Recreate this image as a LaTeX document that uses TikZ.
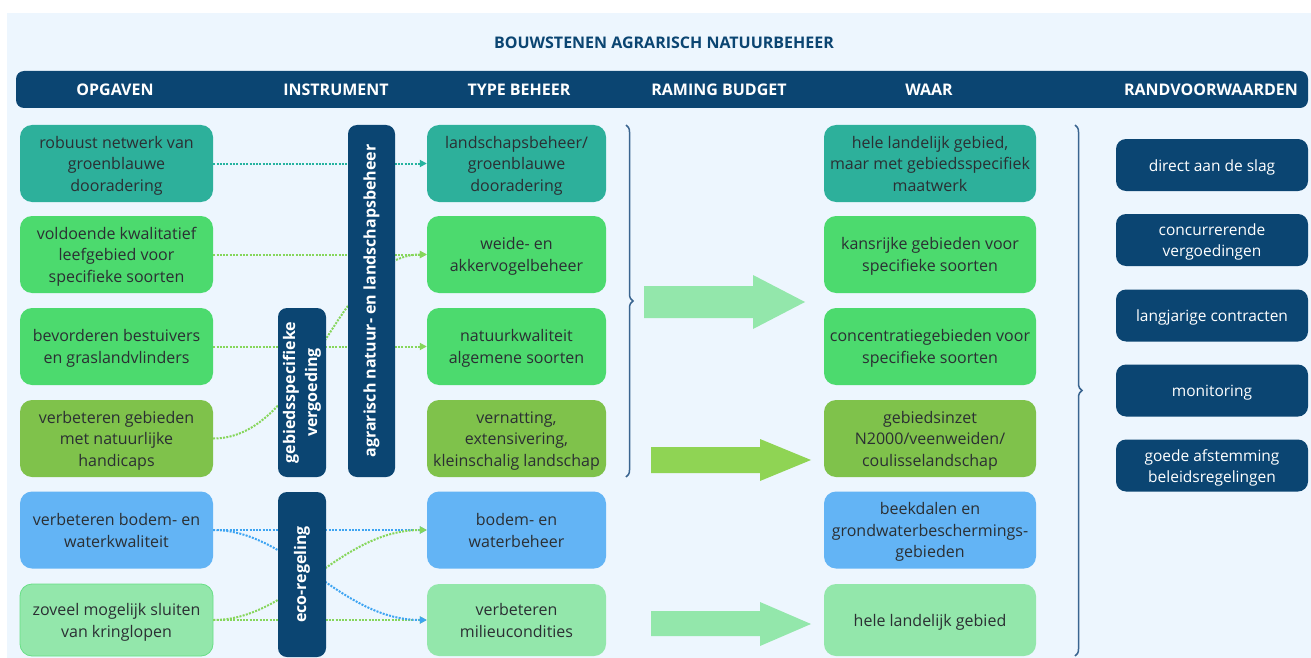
\documentclass[tikz,border=0pt]{standalone}
\usepackage{fontspec}
\setmainfont{Open Sans}
\usetikzlibrary{arrows.meta,decorations.pathreplacing}
\definecolor{bg}{HTML}{EDF6FE}
\definecolor{navy}{HTML}{0B4572}
\definecolor{cteal}{HTML}{2DB09B}
\definecolor{cgreen}{HTML}{4CDA6E}
\definecolor{colive}{HTML}{7FC24B}
\definecolor{cblue}{HTML}{63B4F5}
\definecolor{clight}{HTML}{93E7AB}
\definecolor{carrow}{HTML}{8FD454}
\definecolor{lteal}{HTML}{26B39F}
\definecolor{lgreen}{HTML}{86D65B}
\definecolor{lblue}{HTML}{3DA4F2}
\definecolor{txt}{HTML}{2B2F33}
\definecolor{brc}{HTML}{3A6590}
\newcommand\sA{\rule{0pt}{1.069em}}
\newcommand\sB{\rule[-0.293em]{0pt}{0.293em}}
\begin{document}
\begin{tikzpicture}[x=1pt,y=-1pt,
  box/.style={rectangle, rounded corners=12pt, align=center, text=txt,
    font=\fontsize{16}{21.6}\selectfont, inner sep=0pt},
  obox/.style={box, minimum width=193pt, minimum height=77pt},
  tbox/.style={box, minimum width=179pt, minimum height=77pt},
  wbox/.style={box, minimum width=212pt, minimum height=77pt},
  rbox/.style={rectangle, rounded corners=10pt, fill=navy, text=white, align=center,
    font=\fontsize{15.5}{21}\selectfont, minimum width=192pt, minimum height=52pt, inner sep=0pt},
  bar/.style={rectangle, rounded corners=9pt, fill=navy, text=white, align=center,
    font=\bfseries\fontsize{16}{22}\selectfont, rotate=90, inner sep=0pt},
  hdr/.style={text=white, font=\bfseries\fontsize{16}{19}\selectfont, inner sep=0pt},
  conn/.style={line width=2pt, dash pattern=on 2pt off 1.3pt, -{Triangle[length=7pt,width=7pt]}},
  brace/.style={draw=brc, line width=1.5pt, decorate, decoration={brace, amplitude=7pt}}
]
\useasboundingbox (0,0) rectangle (1311,658);
\fill[white] (0,0) rectangle (1311,658);
\fill[bg] (7,13) rectangle (1311,658);

% title and header
\node[text=navy, font=\bfseries\fontsize{16}{19}\selectfont] (title) at (664,43) {BOUWSTENEN AGRARISCH NATUURBEHEER};
\fill[navy, rounded corners=8pt] (16,71) rectangle (1308,108);
\node[hdr] (h1) at (115,89.5) {\sA OPGAVEN\sB};
\node[hdr] (h2) at (336,89.5) {\sA INSTRUMENT\sB};
\node[hdr] (h3) at (519,89.5) {\sA TYPE BEHEER\sB};
\node[hdr] (h4) at (719,89.5) {\sA RAMING BUDGET\sB};
\node[hdr] (h5) at (929,89.5) {\sA WAAR\sB};
\node[hdr] (h6) at (1211,89.5) {\sA RANDVOORWAARDEN\sB};

% opgaven
\node[obox, fill=cteal] (o1) at (116.5,163.5) {\sA robuust netwerk van\\groenblauwe\\dooradering\sB};
\node[obox, fill=cgreen] (o2) at (116.5,254.5) {\sA voldoende kwalitatief\\leefgebied voor\\specifieke soorten\sB};
\node[obox, fill=cgreen] (o3) at (116.5,346.5) {\sA bevorderen bestuivers\\en graslandvlinders\sB};
\node[obox, fill=colive] (o4) at (116.5,438.5) {\sA verbeteren gebieden\\met natuurlijke\\handicaps\sB};
\node[obox, fill=cblue] (o5) at (116.5,530) {\sA verbeteren bodem- en\\waterkwaliteit\sB};
\node[obox, fill=clight, minimum height=72pt, draw=cgreen!60!clight, line width=0.8pt] (o6) at (116.5,620) {\sA zoveel mogelijk sluiten\\van kringlopen\sB};

% type beheer
\node[tbox, fill=cteal] (t1) at (516.5,163.5) {\sA landschapsbeheer/\\groenblauwe\\dooradering\sB};
\node[tbox, fill=cgreen] (t2) at (516.5,254.5) {\sA weide- en\\akkervogelbeheer\sB};
\node[tbox, fill=cgreen] (t3) at (516.5,346.5) {\sA natuurkwaliteit\\algemene soorten\sB};
\node[tbox, fill=colive] (t4) at (516.5,438.5) {\sA vernatting,\\extensivering,\\kleinschalig landschap\sB};
\node[tbox, fill=cblue] (t5) at (516.5,530) {\sA bodem- en\\waterbeheer\sB};
\node[tbox, fill=clight, minimum height=72pt] (t6) at (516.5,620) {\sA verbeteren\\milieucondities\sB};

% waar
\node[wbox, fill=cteal] (w1) at (930,163.5) {\sA hele landelijk gebied,\\maar met gebiedsspecifiek\\maatwerk\sB};
\node[wbox, fill=cgreen] (w2) at (930,254.5) {\sA kansrijke gebieden voor\\specifieke soorten\sB};
\node[wbox, fill=cgreen] (w3) at (930,346.5) {\sA concentratiegebieden voor\\specifieke soorten\sB};
\node[wbox, fill=colive] (w4) at (930,438.5) {\sA gebiedsinzet\\N2000/veenweiden/\\coulisselandschap\sB};
\node[wbox, fill=cblue] (w5) at (930,530) {\sA beekdalen en\\grondwaterbeschermings-\\gebieden\sB};
\node[wbox, fill=clight, minimum height=72pt] (w6) at (930,620) {\sA hele landelijk gebied\sB};

% randvoorwaarden
\node[rbox] (r1) at (1212,165) {\sA direct aan de slag\sB};
\node[rbox] (r2) at (1212,240) {\sA concurrerende\\vergoedingen\sB};
\node[rbox] (r3) at (1212,315.5) {\sA langjarige contracten\sB};
\node[rbox] (r4) at (1212,390.5) {\sA monitoring\sB};
\node[rbox] (r5) at (1212,465.5) {\sA goede afstemming\\beleidsregelingen\sB};

% connectors
\draw[conn, lteal] (o1.east) -- (t1.west);
\draw[conn, lgreen] (o2.east) -- (t2.west);
\draw[conn, lgreen] (o3.east) -- (t3.west);
\draw[conn, lgreen] (o4.east) .. controls +(95,0) and +(-90,0) .. (t2.west);
\draw[conn, lblue] (o5.east) -- (t5.west);
\draw[conn, lgreen] (o6.east) -- (t6.west);
\draw[conn, lgreen] (o6.east) .. controls +(77,0) and +(-87,0) .. (t5.west);
\draw[conn, lblue] (o5.east) .. controls +(77,0) and +(-87,0) .. (t6.west);

% instrument bars (on top of connectors)
\node[bar, minimum width=169pt, minimum height=48pt] (b1) at (302,392.5) {gebiedsspecifieke\\vergoeding};
\node[bar, minimum width=352pt, minimum height=47pt] (b2) at (371.5,301) {agrarisch natuur- en landschapsbeheer};
\node[bar, minimum width=165pt, minimum height=48pt] (b3) at (302,574.5) {eco-regeling};

% braces
\draw[brace] (626,125) -- (626,477);
\draw[brace] (1075,125) -- (1075,656);

% big arrows
\fill[clight] (644,286) -- (753,286) -- (753,275) -- (805,302) -- (753,329) -- (753,318) -- (644,318) -- cycle;
\fill[carrow] (651,447) -- (760,447) -- (760,439) -- (811,460) -- (760,481) -- (760,473) -- (651,473) -- cycle;
\fill[clight] (651,611) -- (760,611) -- (760,602) -- (811,624) -- (760,646) -- (760,636) -- (651,636) -- cycle;
\end{tikzpicture}
\end{document}
